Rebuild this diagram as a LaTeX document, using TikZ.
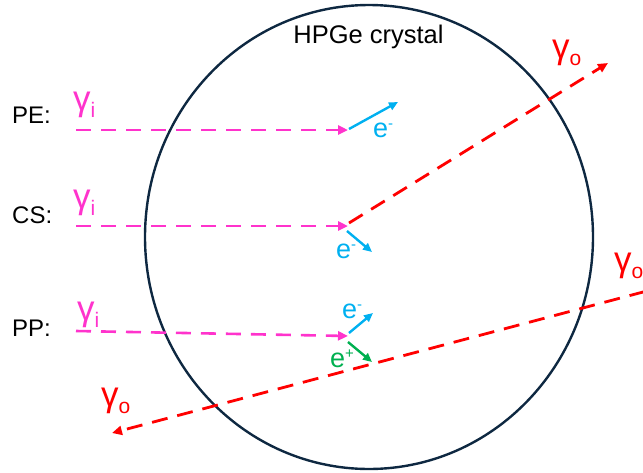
\documentclass[tikz,border=0pt]{standalone}
\usepackage{fontspec}
\setmainfont{Liberation Sans}
\usetikzlibrary{arrows.meta}
\definecolor{gmag}{RGB}{255,51,204}
\definecolor{gred}{RGB}{255,0,0}
\definecolor{ecyan}{RGB}{0,176,240}
\definecolor{egreen}{RGB}{0,176,80}
\definecolor{navy}{RGB}{14,40,65}
\newcommand\gsub[1]{{\fontsize{35}{35}\selectfont γ}\raisebox{-7pt}{\fontsize{21}{21}\selectfont #1}}
\newcommand\esup[1]{{\fontsize{27}{27}\selectfont e}\raisebox{9pt}{\fontsize{15}{15}\selectfont #1}}
\begin{document}
\begin{tikzpicture}[x=1pt,y=-1pt,
  gin/.style={draw=gmag, line width=2.6pt, dash pattern=on 15pt off 10pt, -{Triangle[length=10pt,width=9pt]}},
  gout/.style={draw=gred, line width=2.8pt, dash pattern=on 16pt off 10pt, -{Triangle[length=10pt,width=9pt]}},
  elec/.style={draw=ecyan, line width=2.4pt, -{Triangle[length=9pt,width=8pt]}},
  posi/.style={draw=egreen, line width=2.4pt, -{Triangle[length=9pt,width=8pt]}},
  lbl/.style={inner sep=0pt, anchor=base west, font=\fontsize{24}{24}\selectfont, text=black},
  glbl/.style={inner sep=0pt, anchor=base west},
]
\useasboundingbox (0,0) rectangle (643,472);
% crystal
\draw[navy, line width=2.4pt] (369,237) ellipse [x radius=224, y radius=232];
\node[inner sep=0pt, anchor=base, font=\fontsize{25.5}{25.5}\selectfont] (title) at (368.5,43) {HPGe crystal};

% process labels
\node[lbl] (pe) at (12,123) {PE:};
\node[lbl] (cs) at (12,223) {CS:};
\node[lbl] (pp) at (12,336) {PP:};

% incoming gamma labels
\node[glbl, text=gmag] (gpe) at (73,110) {\gsub{i}};
\node[glbl, text=gmag] (gcs) at (73,208) {\gsub{i}};
\node[glbl, text=gmag] (gpp) at (77,320) {\gsub{i}};

% outgoing gamma labels
\node[glbl, text=gred] (gocs) at (552,58) {\gsub{o}};
\node[glbl, text=gred] (gopp1) at (614,271) {\gsub{o}};
\node[glbl, text=gred] (gopp2) at (101,406) {\gsub{o}};

% electron / positron labels
\node[glbl, text=ecyan] (epe) at (373,137) {\esup{-}};
\node[glbl, text=ecyan] (ecs) at (336,258) {\esup{-}};
\node[glbl, text=ecyan] (epp) at (342,318) {\esup{-}};
\node[glbl, text=egreen] (ppos) at (330,367) {\esup{+}};

% coordinates
\coordinate (peS) at (76,130);
\coordinate (peT) at (348,130);
\coordinate (csS) at (76,226);
\coordinate (csT) at (348,226);
\coordinate (ppS) at (76,331);
\coordinate (ppT) at (348,336);

\coordinate (peE0) at (349,129);
\coordinate (peE1) at (398,102);
\coordinate (csE0) at (347,231);
\coordinate (csE1) at (372,252);
\coordinate (ppE0) at (349,333);
\coordinate (ppE1) at (373,313);
\coordinate (ppP0) at (348,342);
\coordinate (ppP1) at (372,362);

\coordinate (csO0) at (349,223);
\coordinate (csO1) at (608,63);
\coordinate (ppO0) at (645,291.5);
\coordinate (ppO1) at (112,433);

% incoming gammas
\draw[gin] (peS) -- (peT);
\draw[gin] (csS) -- (csT);
\draw[gin] (ppS) -- (ppT);

% outgoing gammas
\draw[gout] (csO0) -- (csO1);
\draw[gout] (ppO0) -- (ppO1);

% electrons / positron
\draw[elec] (peE0) -- (peE1);
\draw[elec] (csE0) -- (csE1);
\draw[elec] (ppE0) -- (ppE1);
\draw[posi] (ppP0) -- (ppP1);
\end{tikzpicture}
\end{document}
